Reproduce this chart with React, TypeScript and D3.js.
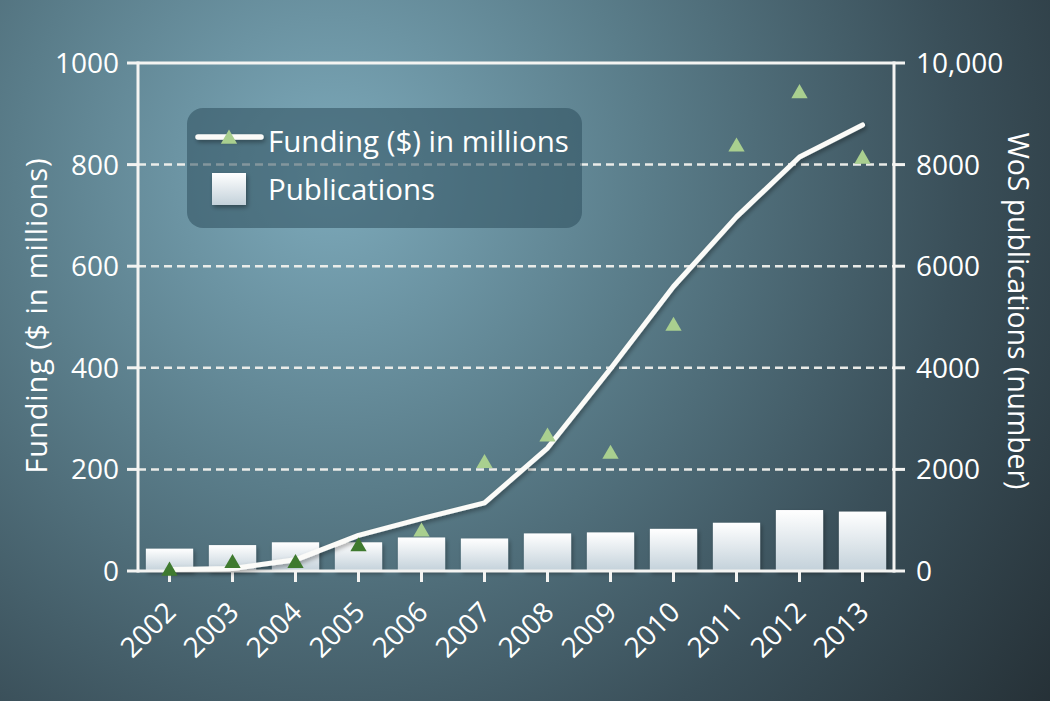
import React from "react";
import * as d3 from "d3";

const years = ["2002","2003","2004","2005","2006","2007","2008","2009","2010","2011","2012","2013"];
const fundingLine = [3, 5, 22, 70, 103, 134, 242, 398, 560, 697, 815, 878];
const fundingPoints = [0, 15, 15, 48, 77, 212, 264, 230, 482, 835, 940, 811];
const publications = [440, 510, 565, 565, 660, 640, 740, 760, 830, 950, 1200, 1170];
const leftTicks = [0, 200, 400, 600, 800, 1000];
const rightTicks = [0, 2000, 4000, 6000, 8000, 10000];
const rightTickLabels = ["0", "2000", "4000", "6000", "8000", "10,000"];
const gridValues = [200, 400, 600, 800];
const darkPointCount = 4;

const W = 1050, H = 701;
const left = 138, right = 894, top = 63, bottom = 571;
const FONT = "'Open Sans', 'DejaVu Sans', sans-serif";
const AXIS = "#f4f4f2";

export default function App() {
  const x = d3.scaleBand().domain(years).range([left, right]).paddingInner(0.25).paddingOuter(0.125);
  const xc = (y: string) => (x(y) as number) + x.bandwidth() / 2;
  const yL = d3.scaleLinear().domain([0, 1000]).range([bottom, top]);
  const yR = d3.scaleLinear().domain([0, 10000]).range([bottom, top]);
  const line = d3.line<number>().x((_, i) => xc(years[i])).y((d) => yL(d));
  const tri = d3.symbol().type(d3.symbolTriangle).size(115);

  return (
    <svg width={W} height={H} style={{ position: "absolute", left: 0, top: 0, display: "block" }} fontFamily={FONT}>
      <defs>
        <radialGradient id="bg" cx="330" cy="175" r="900" gradientUnits="userSpaceOnUse">
          <stop offset="0" stopColor="#7daabb" />
          <stop offset="0.35" stopColor="#5a7d8a" />
          <stop offset="0.7" stopColor="#3a4f59" />
          <stop offset="1" stopColor="#253036" />
        </radialGradient>
        <linearGradient id="barG" x1="0" y1="0" x2="0" y2="1">
          <stop offset="0" stopColor="#ffffff" />
          <stop offset="1" stopColor="#c3d1da" />
        </linearGradient>
        <filter id="shadow" filterUnits="userSpaceOnUse" x="0" y="0" width={W} height={H}>
          <feDropShadow dx="1.5" dy="2.5" stdDeviation="2" floodColor="#000" floodOpacity="0.35" />
        </filter>
      </defs>
      <rect x={0} y={0} width={W} height={H} fill="url(#bg)" />

      {/* grid */}
      {gridValues.map((v) => (
        <line key={v} x1={left} x2={right} y1={yL(v)} y2={yL(v)} stroke="#f2f2ee" strokeWidth={2.5} strokeDasharray="8 5" opacity={0.95} />
      ))}

      {/* bars */}
      <g filter="url(#shadow)">
        {publications.map((p, i) => (
          <rect key={years[i]} x={x(years[i])} y={yR(p)} width={x.bandwidth()} height={bottom - yR(p)} fill="url(#barG)" />
        ))}
      </g>

      {/* legend box */}
      <rect x={187} y={108} width={395} height={120} rx={16} fill="#2e4e5c" opacity={0.55} />

      {/* axes frame */}
      <line x1={left} x2={right} y1={top} y2={top} stroke={AXIS} strokeWidth={3} />
      <line x1={left} x2={left} y1={top - 1.5} y2={bottom + 1.5} stroke={AXIS} strokeWidth={3} />
      <line x1={right} x2={right} y1={top - 1.5} y2={bottom + 1.5} stroke={AXIS} strokeWidth={3} />
      <line x1={left} x2={right} y1={bottom} y2={bottom} stroke={AXIS} strokeWidth={3} />

      {/* left ticks */}
      {leftTicks.map((t) => (
        <g key={t}>
          <line x1={left - 11} x2={left} y1={yL(t)} y2={yL(t)} stroke={AXIS} strokeWidth={3} />
          <text x={left - 19} y={yL(t)} dy="0.36em" textAnchor="end" fill="#fff" fontSize={28}>{t}</text>
        </g>
      ))}
      {/* right ticks */}
      {rightTicks.map((t, i) => (
        <g key={t}>
          <line x1={right} x2={right + 11} y1={yR(t)} y2={yR(t)} stroke={AXIS} strokeWidth={3} />
          <text x={right + 22} y={yR(t)} dy="0.36em" textAnchor="start" fill="#fff" fontSize={28}>{rightTickLabels[i]}</text>
        </g>
      ))}
      {/* x ticks */}
      {years.map((yv) => (
        <g key={yv}>
          <line x1={xc(yv)} x2={xc(yv)} y1={bottom} y2={bottom + 11} stroke={AXIS} strokeWidth={3} />
          <text transform={`translate(${xc(yv) + 8},${614}) rotate(-45)`} textAnchor="end" fill="#fff" fontSize={28}>{yv}</text>
        </g>
      ))}

      {/* axis titles */}
      <text transform={`translate(47,316) rotate(-90)`} textAnchor="middle" fill="#fff" fontSize={29} textLength={315} lengthAdjust="spacing">Funding ($ in millions)</text>
      <text transform={`translate(1008,311) rotate(90)`} textAnchor="middle" fill="#fff" fontSize={28.5} textLength={357} lengthAdjust="spacing">WoS publications (number)</text>

      {/* funding line */}
      <path d={line(fundingLine) as string} fill="none" stroke="#fbfbf8" strokeWidth={5} strokeLinejoin="round" strokeLinecap="round" filter="url(#shadow)" />

      {/* triangles */}
      {fundingPoints.map((v, i) => (
        <path key={years[i]} d={tri() as string} transform={`translate(${xc(years[i])},${yL(v)})`} fill={i < darkPointCount ? "#3f7a2f" : "#a9cf8f"} />
      ))}

      {/* legend content */}
      <line x1={198} x2={261} y1={137} y2={137} stroke="#fbfbf8" strokeWidth={5.5} strokeLinecap="round" filter="url(#shadow)" />
      <path d={tri() as string} transform="translate(229,139)" fill="#a9cf8f" />
      <text x={268} y={152} fill="#fff" fontSize={29.5}>Funding ($) in millions</text>
      <rect x={212} y={173} width={34} height={32} fill="url(#barG)" filter="url(#shadow)" />
      <text x={268} y={200} fill="#fff" fontSize={29.5}>Publications</text>
    </svg>
  );
}
